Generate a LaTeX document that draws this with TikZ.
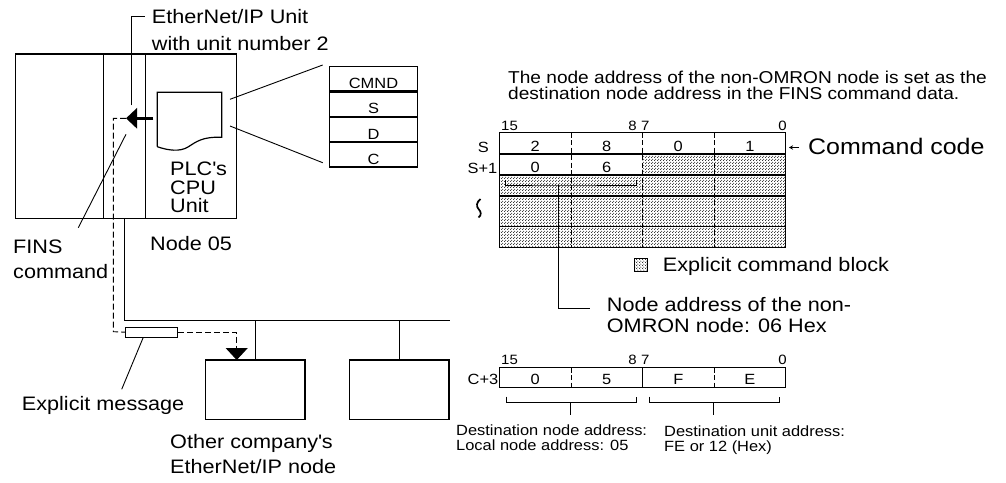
\documentclass[tikz,border=0pt]{standalone}
\usepackage{fontspec}
\setmainfont{Liberation Sans}[FakeStretch=1.11]
\usetikzlibrary{positioning,arrows.meta,patterns}
\pgfdeclarepatternformonly{halftone}{\pgfpointorigin}{\pgfqpoint{3pt}{3pt}}{\pgfqpoint{3pt}{3pt}}{%
  \pgfpathcircle{\pgfqpoint{0.75pt}{0.75pt}}{0.68pt}%
  \pgfpathcircle{\pgfqpoint{2.25pt}{2.25pt}}{0.68pt}%
  \pgfusepath{fill}}
\tikzset{
  box/.style={draw, line width=1.2pt, inner sep=0pt},
  tbl/.style={box, minimum width=88.4pt, minimum height=24.15pt, text height=19.15pt, text depth=0pt, font=\fontsize{14.8}{15}\selectfont},
  lbl/.style={inner sep=0pt, align=left, font=\fontsize{19.5}{25}\selectfont},
  cell/.style={inner sep=0pt, anchor=base, font=\fontsize{14.8}{15}\selectfont},
  dest/.style={inner sep=0pt, align=left, anchor=north west, font=\fontsize{14.8}{15}\selectfont},
  bitno/.style={inner sep=0pt, font=\fontsize{13.5}{14}\selectfont},
  ln/.style={line width=1.2pt},
  leader/.style={line width=0.9pt},
  divider/.style={line width=1pt, dash pattern=on 5pt off 2.5pt},
  msg/.style={line width=0.9pt, dash pattern=on 6pt off 3pt},
  bigarr/.style={-{Triangle[length=11pt,width=20pt]}, line width=3pt},
  dotfill/.style={pattern=halftone, pattern color=black!85}}

\begin{document}
\begin{tikzpicture}[x=1pt,y=-1pt]
\useasboundingbox (0,0) rectangle (1006,482);
% sending PLC
\node[box, minimum width=221pt, minimum height=164.7pt] (plc) at (126.2,136.35) {};
\draw[ln] (103.7,54) -- (103.7,218.7) (145.7,54) -- (145.7,218.7);
\draw[ln] (157.3,146.7) -- (157.3,92.3) -- (221.7,92.3) -- (221.7,137.3)
  .. controls (202,136.5) and (196,142) .. (188,147) .. controls (180,152) and (168,150.5) .. (157.3,146.7);
\node[lbl, anchor=north west, font=\fontsize{19.5}{18.8}\selectfont] (cpulbl) at (170,161.5) {PLC\textquotesingle s\\CPU\\Unit};
\node[lbl, anchor=base west] (nodelbl) at (150,250) {Node 05};
\node[lbl, anchor=north west, font=\fontsize{19.5}{26.7}\selectfont] (unitlbl) at (151.7,9.2) {EtherNet/IP Unit\\with unit number 2};
\node[lbl, anchor=north west] (finslbl) at (13,239.3) {FINS\\command};
\coordinate (unitpt) at (131.7,105.3);
\coordinate (unitend) at (145,16);
\draw[leader] (unitpt) |- (unitend);
\coordinate (cputx) at (153.3,118.3);
\coordinate (unittx) at (126,118.3);
\draw[bigarr] (cputx) -- (unittx);
\coordinate (finsA) at (126,134.3);
\coordinate (finsB) at (78.3,227.7);
\draw[leader] (finsA) -- (finsB);
% CMND area
\node[tbl] (cmnd) at (373.5,78.8) {CMND};
\node[tbl, below=0pt of cmnd] (cs) {S};
\node[tbl, below=0pt of cs] (cd) {D};
\node[tbl, below=0pt of cd] (cc) {C};
\coordinate (docA) at (230,99.3);
\coordinate (docB) at (230,126);
\coordinate (zoomA) at (322.7,65);
\coordinate (zoomB) at (322.7,162.7);
\draw[leader] (docA) -- (zoomA);
\draw[leader] (docB) -- (zoomB);
% network
\node[box, minimum width=99.3pt, minimum height=59.3pt] (other) at (255.35,389.65) {};
\node[box, minimum width=99.4pt, minimum height=59.3pt, right=43.3pt of other] (peer) {};
\coordinate (tap) at (124.3,218.7);
\coordinate (busend) at (450,320.7);
\draw[ln] (tap) |- (busend);
\draw[ln] (other.north |- busend) -- (other.north);
\draw[ln] (peer.north |- busend) -- (peer.north);
\node[lbl, anchor=north west] (otherlbl) at (170,434.2) {Other company\textquotesingle s\\EtherNet/IP node};
% explicit message route
\node[box, line width=0.9pt, minimum width=52pt, minimum height=10.3pt] (msgbox) at (151.7,332.2) {};
\coordinate (bend) at (113.3,331.7);
\coordinate (drop0) at (236.7,360);
\draw[msg] (unittx) -| (bend) -- (msgbox.west);
\draw[msg, -{Triangle[length=12pt,width=22pt]}] (msgbox.east) -| (drop0);
\coordinate (msgfoot) at (143.3,337.3);
\coordinate (msgtail) at (121.7,389.3);
\draw[leader] (msgfoot) -- (msgtail);
\node[lbl, anchor=base west] (msglbl) at (21.7,410) {Explicit message};
% command data
\node[lbl, anchor=north west, font=\fontsize{17.2}{16.6}\selectfont] (note) at (508,70.5) {The node address of the non-OMRON node is set as the\\destination node address in the FINS command data.};
\fill[dotfill] (642.7,154) rectangle (785.7,175) (499.3,175) rectangle (785.7,247.7);
\foreach \y in {132.7,154,175,196,226.7,247.7} \draw[ln] (499.3,\y) -- (785.7,\y);
\draw[ln] (499.3,132.7) -- (499.3,247.7) (785.7,132.7) -- (785.7,247.7);
\foreach \x in {571,642.7,714.3} \draw[divider] (\x,132.7) -- (\x,247.7);
\foreach \t [count=\i] in {2,8,0,1} \node[cell] (s\i) at ({463.5+71.6*\i},151.4) {\t};
\node[cell] (sa) at (535.1,172.4) {0};
\node[cell] (sb) at (606.7,172.4) {6};
\node[cell, anchor=base east] (rs) at (489,152.5) {S};
\node[cell, anchor=base east] (rs1) at (497.5,173) {S+1};
\node[bitno, anchor=base west] (ba15) at (501,130.5) {15};
\node[bitno, anchor=base east] (ba8) at (637,130.5) {8};
\node[bitno, anchor=base west] (ba7) at (641,130.5) {7};
\node[bitno, anchor=base east] (ba0) at (787,130.5) {0};
\draw[line width=1.7pt] (480.5,199) .. controls (476.5,202) and (476,206.5) .. (478.5,209) .. controls (481,211.5) and (482,215) .. (478.5,217.5);
\coordinate (brmid) at (558,185);
\draw[leader] (505.7,180) |- (brmid) -| (636.7,180);
\coordinate (nastem) at (590,308.5);
\draw[leader] (brmid) |- (nastem);
\node[lbl, anchor=north west, font=\fontsize{19.5}{21}\selectfont] (nalbl) at (606.7,297.5) {Node address of the non-\\OMRON node: 06 Hex};
\node[draw, line width=0.6pt, dotfill, minimum width=13pt, minimum height=13pt, inner sep=0pt] (key) at (640.8,265) {};
\node[lbl, anchor=base west] (keylbl) at (662.7,271) {Explicit command block};
\node[lbl, anchor=base west, font=\fontsize{22.5}{23}\selectfont] (code) at (808,154.5) {Command code};
\coordinate (codeA) at (799,147.5);
\coordinate (codeB) at (789,147.5);
\draw[line width=0.7pt, -{Stealth[length=4pt,width=4.5pt]}] (codeA) -- (codeB);
% C+3 word
\draw[ln] (499.3,367.7) rectangle (785.7,387.7) (642.7,367.7) -- (642.7,387.7);
\draw[divider] (571,367.7) -- (571,387.7) (714.3,367.7) -- (714.3,387.7);
\foreach \t [count=\i] in {0,5,F,E} \node[cell] (c\i) at ({463.5+71.6*\i},384.5) {\t};
\node[cell, anchor=base east] (rc3) at (498.5,384.5) {C+3};
\node[bitno, anchor=base west] (bc15) at (501,364) {15};
\node[bitno, anchor=base east] (bc8) at (637,364) {8};
\node[bitno, anchor=base west] (bc7) at (641,364) {7};
\node[bitno, anchor=base east] (bc0) at (787,364) {0};
\coordinate (brL) at (570,402.7);
\coordinate (brR) at (713.3,402.7);
\draw[leader] (506,396.7) |- (brL) -| (636,396.7);
\draw[leader] (649.3,396.7) |- (brR) -| (779.5,396.7);
\draw[leader] (brL) -- ++(0,12.3);
\draw[leader] (brR) -- ++(0,12.3);
\node[dest] (dstnode) at (456,424.3) {Destination node address:\\Local node address: 05};
\node[dest] (dstunit) at (664,425.2) {Destination unit address:\\FE or 12 (Hex)};
\end{tikzpicture}
\end{document}
